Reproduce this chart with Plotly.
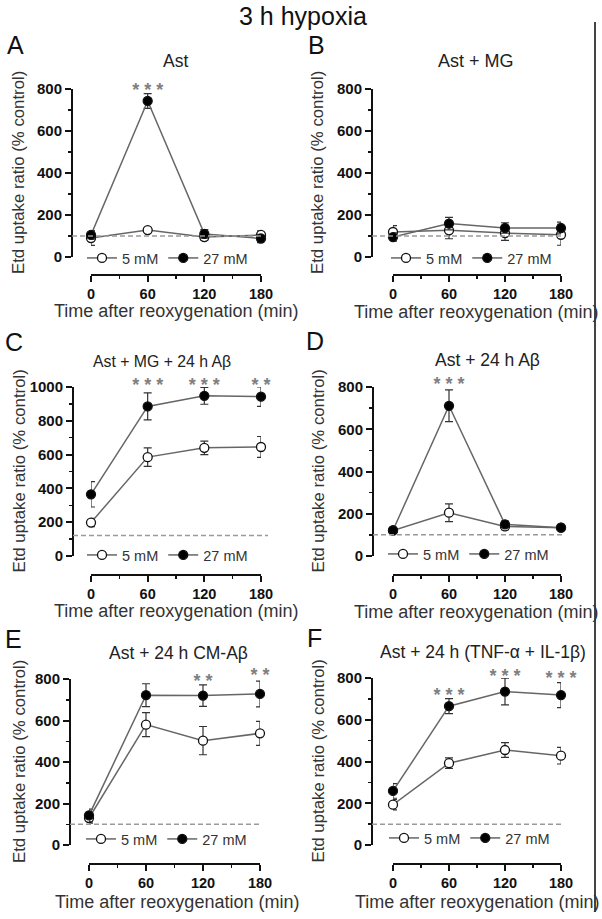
import plotly.graph_objects as go

W, H = 602, 919

# ---------------- data ----------------
time_min = [0, 60, 120, 180]
panel_ids = ["A", "B", "C", "D", "E", "F"]
panel_titles = ["Ast", "Ast + MG", "Ast + MG + 24 h Aβ", "Ast + 24 h Aβ",
                "Ast + 24 h CM-Aβ", "Ast + 24 h (TNF-α + IL-1β)"]
series_names = ["5 mM", "27 mM"]

# mean values (% control), 5 mM glucose
low_A = [90, 128, 95, 105]
low_B = [119, 127, 114, 106]
low_C = [198, 585, 640, 645]
low_D = [120, 205, 140, 134]
low_E = [130, 580, 503, 538]
low_F = [193, 392, 455, 428]
# SEM, 5 mM
low_A_err = [35, 10, 15, 20]
low_B_err = [30, 40, 35, 50]
low_C_err = [25, 55, 40, 62]
low_D_err = [12, 42, 15, 10]
low_E_err = [25, 58, 68, 58]
low_F_err = [25, 25, 35, 40]

# mean values (% control), 27 mM glucose
high_A = [105, 743, 110, 88]
high_B = [95, 159, 138, 138]
high_C = [365, 885, 948, 943]
high_D = [122, 711, 150, 134]
high_E = [143, 722, 720, 728]
high_F = [259, 665, 735, 718]
# SEM, 27 mM
high_A_err = [20, 35, 20, 20]
high_B_err = [20, 30, 25, 28]
high_C_err = [75, 80, 50, 58]
high_D_err = [12, 75, 15, 10]
high_E_err = [30, 55, 52, 62]
high_F_err = [35, 36, 64, 60]

# control reference level (dashed line)
baseline = [100, 100, 122, 100, 100, 100]

# significance marks
star_t_A = [60];            star_txt_A = ["* * *"];                   star_lvl_A = [810]
star_t_B = [];              star_txt_B = [];                          star_lvl_B = []
star_t_C = [60, 120, 180];  star_txt_C = ["* * *", "* * *", "* *"];   star_lvl_C = [1035, 1035, 1035]
star_t_D = [60];            star_txt_D = ["* * *"];                   star_lvl_D = [833]
star_t_E = [120, 180];      star_txt_E = ["* *", "* *"];              star_lvl_E = [806, 834]
star_t_F = [60, 120, 180];  star_txt_F = ["* * *", "* * *", "* * *"]; star_lvl_F = [734, 825, 815]

y_max = [800, 800, 1000, 800, 800, 800]
x_ticks = [0, 60, 120, 180]
x_minor = [30, 90, 150]

lows = [low_A, low_B, low_C, low_D, low_E, low_F]
lows_err = [low_A_err, low_B_err, low_C_err, low_D_err, low_E_err, low_F_err]
highs = [high_A, high_B, high_C, high_D, high_E, high_F]
highs_err = [high_A_err, high_B_err, high_C_err, high_D_err, high_E_err, high_F_err]
stars = [(star_t_A, star_txt_A, star_lvl_A), (star_t_B, star_txt_B, star_lvl_B),
         (star_t_C, star_txt_C, star_lvl_C), (star_t_D, star_txt_D, star_lvl_D),
         (star_t_E, star_txt_E, star_lvl_E), (star_t_F, star_txt_F, star_lvl_F)]

# ---------------- layout geometry (pixels) ----------------
geom = [
    dict(yx=72, x0=91, x1=261, yb=257, yt=89, xy=275, dash_end=262, tsize=17.5,
         title=(175, 61), letter=(15, 45), xt=(176, 311), yt_c=19, leg=(90, 258)),
    dict(yx=372, x0=393, x1=561, yb=257, yt=89, xy=275, dash_end=562, tsize=18,
         title=(476, 61), letter=(316, 45), xt=(476, 312), yt_c=318, leg=(394, 258)),
    dict(yx=73, x0=91, x1=261, yb=556, yt=387, xy=575, dash_end=268, tsize=15.8,
         title=(162, 361), letter=(14, 342), xt=(176, 611), yt_c=19, leg=(90, 555)),
    dict(yx=373, x0=393, x1=561, yb=556, yt=387, xy=575, dash_end=563, tsize=17.5,
         title=(487, 360), letter=(315, 341), xt=(476, 612), yt_c=318, leg=(391, 554)),
    dict(yx=70, x0=89, x1=260, yb=845, yt=679, xy=864, dash_end=262, tsize=17.5,
         title=(178, 653), letter=(13, 639), xt=(177, 902), yt_c=19, leg=(89, 839)),
    dict(yx=372, x0=393, x1=561, yb=845, yt=678, xy=864, dash_end=563, tsize=17.5,
         title=(483, 652), letter=(314, 638), xt=(477, 902), yt_c=318, leg=(392, 838)),
]
STAR_HEADROOM = 40   # extra pixels above the axis top for the significance axis
STAR_DROP = 5        # compensates the high baseline of the asterisk glyph

FONT = "Liberation Sans, Arial, sans-serif"
def px(x):
    return x / W
def py(y):
    return 1 - y / H

fig = go.Figure()
layout = dict(width=W, height=H, margin=dict(l=0, r=0, t=0, b=0, autoexpand=False),
              paper_bgcolor="white", plot_bgcolor="rgba(0,0,0,0)",
              font=dict(family=FONT, color="#222"), showlegend=True)
annotations = []
shapes = []

for i in range(6):
    g = geom[i]
    n = i + 1
    xa = "x" if n == 1 else f"x{n}"
    ya = "y" if n == 1 else f"y{n}"
    ys = f"y{n + 6}"
    leg = "legend" if n == 1 else f"legend{n}"

    for name, vals, errs, fill in [(series_names[0], lows[i], lows_err[i], "white"),
                                   (series_names[1], highs[i], highs_err[i], "black")]:
        fig.add_trace(go.Scatter(
            x=time_min, y=vals, xaxis=xa, yaxis=ya, name=name, legend=leg,
            mode="lines+markers", cliponaxis=False,
            line=dict(color="#666", width=1.5),
            marker=dict(symbol="circle", size=9, color=fill,
                        line=dict(color="#111", width=1.3)),
            error_y=dict(type="data", array=errs, visible=True,
                         color="#333", thickness=1.2, width=4),
        ))

    ymax = y_max[i]
    # significance marks on a hidden axis with the same scale but extra headroom
    st, stxt, slvl = stars[i]
    if st:
        fig.add_trace(go.Scatter(
            x=st, y=slvl, xaxis=xa, yaxis=ys, mode="text", text=stxt,
            textposition="middle center", cliponaxis=False, showlegend=False,
            textfont=dict(size=18, color="#808080", family=FONT, weight="bold"),
            hoverinfo="skip",
        ))
    span_px = g["yb"] - g["yt"]
    layout[f"yaxis{n + 6}"] = dict(
        domain=[py(g["yb"] + STAR_DROP), py(g["yt"] - STAR_HEADROOM + STAR_DROP)],
        range=[0, ymax * (span_px + STAR_HEADROOM) / span_px],
        anchor="free", position=px(g["yx"]), visible=False, fixedrange=True,
    )

    ytv = list(range(0, ymax + 1, 200))
    ymn = list(range(100, ymax, 200))
    layout["xaxis" if n == 1 else f"xaxis{n}"] = dict(
        domain=[px(g["x0"]), px(g["x1"])], range=[0, 180],
        anchor="free", position=py(g["xy"]),
        showline=True, linecolor="#111", linewidth=2,
        tickmode="array", tickvals=x_ticks, ticktext=[str(v) for v in x_ticks],
        ticks="outside", ticklen=6, tickwidth=2, tickcolor="#111",
        tickfont=dict(size=14.5, color="#111", weight="bold", family=FONT),
        minor=dict(tickmode="array", tickvals=x_minor, ticks="outside",
                   ticklen=3, tickwidth=1.5, tickcolor="#111", showgrid=False),
        showgrid=False, zeroline=False, fixedrange=True,
    )
    layout["yaxis" if n == 1 else f"yaxis{n}"] = dict(
        domain=[py(g["yb"]), py(g["yt"])], range=[0, ymax],
        anchor="free", position=px(g["yx"]),
        showline=True, linecolor="#111", linewidth=2,
        tickmode="array", tickvals=ytv, ticktext=[str(v) for v in ytv],
        ticks="outside", ticklen=6, tickwidth=2, tickcolor="#111",
        tickfont=dict(size=15, color="#111", weight="bold", family=FONT),
        minor=dict(tickmode="array", tickvals=ymn, ticks="outside",
                   ticklen=3, tickwidth=1.5, tickcolor="#111", showgrid=False),
        showgrid=False, zeroline=False, fixedrange=True,
    )
    layout[leg] = dict(
        x=px(g["leg"][0] - 8), y=py(g["leg"][1]), xanchor="left", yanchor="middle",
        orientation="h", bgcolor="rgba(0,0,0,0)", borderwidth=0,
        font=dict(size=14.5, color="#333", family=FONT),
        itemwidth=30, tracegroupgap=0, itemclick=False, itemdoubleclick=False,
    )

    # dashed control line
    shapes.append(dict(type="line", xref="paper", yref=ya,
                       x0=px(g["yx"]), x1=px(g["dash_end"]),
                       y0=baseline[i], y1=baseline[i],
                       line=dict(color="#9a9a9a", width=1.5, dash="5px,3px")))

    # panel title
    annotations.append(dict(x=px(g["title"][0]), y=py(g["title"][1]), xref="paper", yref="paper",
                            text=panel_titles[i], showarrow=False,
                            xanchor="center", yanchor="middle",
                            font=dict(size=g["tsize"], color="#222", family=FONT)))
    # panel letter
    annotations.append(dict(x=px(g["letter"][0]), y=py(g["letter"][1]), xref="paper", yref="paper",
                            text=panel_ids[i], showarrow=False,
                            xanchor="center", yanchor="middle",
                            font=dict(size=25, color="#111", family=FONT)))
    # x axis title
    annotations.append(dict(x=px(g["xt"][0]), y=py(g["xt"][1]), xref="paper", yref="paper",
                            text="Time after reoxygenation (min)", showarrow=False,
                            xanchor="center", yanchor="middle",
                            font=dict(size=18, color="#333", family=FONT)))
    # y axis title
    annotations.append(dict(x=px(g["yt_c"]), y=py((g["yb"] + g["yt"]) / 2), xref="paper", yref="paper",
                            text="Etd uptake ratio (% control)", showarrow=False, textangle=-90,
                            xanchor="center", yanchor="middle",
                            font=dict(size=16.8, color="#333", family=FONT)))

# figure title
annotations.append(dict(x=px(303), y=py(16), xref="paper", yref="paper",
                        text="3 h hypoxia", showarrow=False,
                        xanchor="center", yanchor="middle",
                        font=dict(size=25, color="#111", family=FONT)))

# right-hand frame line
shapes.append(dict(type="line", xref="paper", yref="paper",
                   x0=px(595), x1=px(595), y0=py(22), y1=py(912),
                   line=dict(color="#444", width=2)))

layout["annotations"] = annotations
layout["shapes"] = shapes
fig.update_layout(**layout)

fig.write_html("out.html",
               config={"displayModeBar": False, "staticPlot": True},
               post_script="document.body.style.margin='0';"
                           "document.body.style.padding='0';"
                           "document.documentElement.style.overflow='hidden';")
